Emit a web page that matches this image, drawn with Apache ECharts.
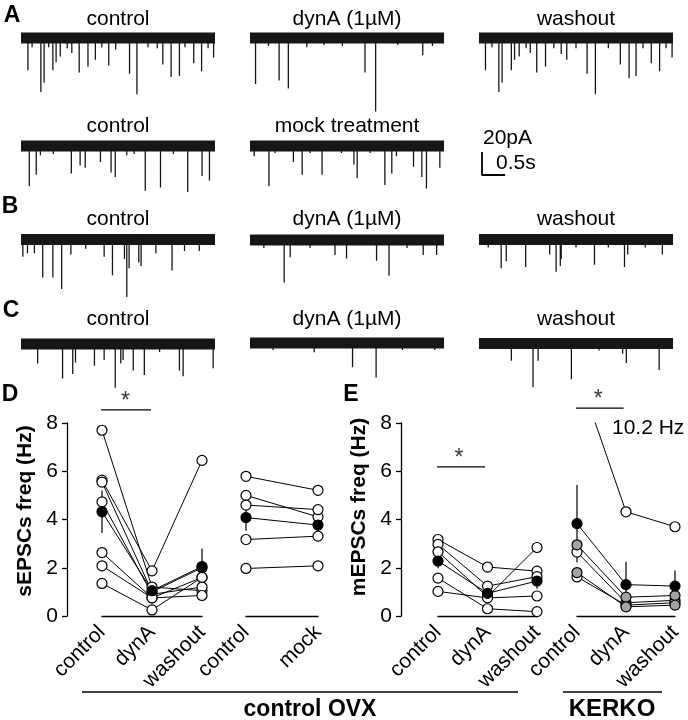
<!DOCTYPE html>
<html><head><meta charset="utf-8">
<script src="https://cdn.jsdelivr.net/npm/echarts/dist/echarts.min.js"></script>
<style>html,body{margin:0;padding:0;background:#fff}#c{width:688px;height:720px}</style>
</head><body><div id="c"></div>
<script>
const FONT = '"Liberation Sans", Arial, Helvetica, sans-serif';

// ---------- Trace data: events [time (s), amplitude (pA, inward)] ----------
const traceDuration = 4.2;
const traceA1Control = [[0.15,28],[0.24,8],[0.43,47],[0.50,39],[0.60,8],[0.69,28],[0.76,21],[0.85,16],[1.00,9],[1.10,13],[1.26,30],[1.45,25],[1.61,19],[1.75,8],[1.90,24],[2.05,10],[2.35,31],[2.51,49],[2.75,8],[2.95,9],[3.07,23],[3.25,34],[3.43,33],[3.55,8],[3.74,22],[3.91,29],[4.05,9],[4.17,17]];
const traceA1DynA = [[0.12,40],[0.40,7],[0.63,37],[0.83,44],[1.23,8],[1.60,6],[2.00,7],[2.49,30],[2.72,64],[3.20,6],[3.74,15],[3.95,7]];
const traceA1Wash = [[0.14,28],[0.28,8],[0.43,47],[0.50,39],[0.70,28],[0.77,19],[0.87,16],[1.02,9],[1.11,13],[1.25,30],[1.44,25],[1.62,9],[1.78,14],[1.90,19],[2.10,9],[2.34,31],[2.52,49],[2.80,9],[3.06,23],[3.25,35],[3.40,33],[3.55,9],[3.73,22],[3.91,29],[4.05,9],[4.18,17]];
const traceA2Control = [[0.18,35],[0.33,25],[0.42,8],[0.70,7],[1.09,24],[1.28,17],[1.39,19],[1.72,14],[1.95,23],[2.04,27],[2.29,8],[2.45,7],[2.69,39],[3.02,36],[3.30,7],[3.61,40],[3.92,26],[4.08,30]];
const traceA2Mock = [[0.09,9],[0.41,35],[0.54,6],[0.94,14],[1.13,25],[1.30,6],[1.56,25],[1.98,6],[2.25,16],[2.32,28],[2.60,6],[2.92,34],[3.07,24],[3.17,9],[3.54,18],[3.72,27],[3.82,37],[4.11,19]];
const traceBControl = [[0.04,15],[0.14,12],[0.29,12],[0.47,33],[0.69,33],[0.88,43],[1.08,13],[1.40,8],[1.80,15],[1.98,31],[2.24,17],[2.29,50],[2.34,25],[2.55,20],[2.60,23],[2.92,12],[3.27,27],[3.54,10],[3.86,10]];
const traceBDynA = [[0.30,7],[0.74,37],[0.87,15],[1.30,7],[1.84,13],[2.09,16],[2.74,18],[3.01,31],[3.40,7],[3.75,13],[4.04,13]];
const traceBWash = [[0.20,7],[0.48,25],[0.59,19],[1.01,24],[1.53,13],[1.67,28],[1.76,23],[1.78,17],[2.10,7],[2.50,22],[2.80,7],[3.15,24],[3.22,13],[3.60,7],[3.97,13]];
const traceCControl = [[0.36,17],[0.90,30],[1.12,26],[1.18,16],[1.59,19],[1.80,14],[2.04,38],[2.16,17],[2.21,14],[2.43,23],[2.67,27],[3.00,7],[3.43,23],[3.51,28],[4.16,21]];
const traceCDynA = [[0.50,6],[1.39,8],[2.22,21],[2.73,30],[3.30,6],[4.00,6]];
const traceCWash = [[0.70,15],[1.17,38],[1.28,15],[2.00,31],[2.60,6],[3.11,9],[3.19,17],[3.90,23]];

// scale bar: 20 pA / 0.5 s
const scaleBar = [[0,20],[0,0],[0.5,0]];

// ---------- Summary data (Hz) ----------
const catsThree = ['control','dynA','washout'];
const catsMock = ['control','mock'];
// D: sEPSC, control OVX, dynA experiment: [control, dynA, washout]
const dCells = [[7.7,1.2,1.05],[5.63,1.87,6.45],[5.55,1.0,2.0],[4.73,0.9,1.2],[2.63,0.75,1.6],[2.08,0.75,0.85],[1.35,0.25,1.6]];
const dMean = [4.32,1.05,2.05];
const dErr = [0.88,0.15,0.75];
// D: mock treatment [control, mock]
const mCells = [[5.79,5.21],[5.0,4.11],[4.6,4.41],[3.17,3.31],[1.97,2.08]];
const mMean = [4.08,3.77];
const mErr = [0.55,0.45];
// E: mEPSC, control OVX
const eCells = [[3.17,2.03,1.86],[2.97,1.24,1.63],[2.66,0.8,2.84],[1.57,0.3,0.18],[1.02,0.75,0.83]];
const eMean = [2.28,0.94,1.45];
const eErr = [0.3,0.15,0.32];
// E: KERKO
const kCells = [[10.2,4.32,3.7],[2.95,0.78,0.85],[2.65,0.55,0.65],[1.8,0.38,0.45],[1.62,0.45,0.55]];
const kFill = ['open','gray','open','gray','open'];
const kMean = [3.83,1.3,1.24];
const kErr = [1.6,0.95,0.65];
// significance bars [x0, x1, y]
const sigD = [-0.04,0.98,8.54];
const sigE1 = [-0.1,0.95,6.18];
const sigE2 = [-0.08,0.95,8.62];

// ---------- Layout ----------
const colLeft = [21,250,479];
const traceW = 194, pxPerPA = 1.15, yMinPA = -75, yMaxPA = 10;
const traces = [
  {d:traceA1Control,col:0,base:38,title:'control',ty:19},
  {d:traceA1DynA,col:1,base:38,title:'dynA (1µM)',ty:19},
  {d:traceA1Wash,col:2,base:38,title:'washout',ty:19},
  {d:traceA2Control,col:0,base:146,title:'control',ty:126},
  {d:traceA2Mock,col:1,base:146,title:'mock treatment',ty:126},
  {d:traceBControl,col:0,base:239.5,title:'control',ty:219},
  {d:traceBDynA,col:1,base:240,title:'dynA (1µM)',ty:219},
  {d:traceBWash,col:2,base:239.5,title:'washout',ty:219},
  {d:traceCControl,col:0,base:344,title:'control',ty:319},
  {d:traceCDynA,col:1,base:343,title:'dynA (1µM)',ty:319},
  {d:traceCWash,col:2,base:343.5,title:'washout',ty:319}
];

const grids=[], xAxes=[], yAxes=[], series=[], graphics=[];
function addGrid(g,x,y){ grids.push(g); const i=grids.length-1; x.gridIndex=i; y.gridIndex=i; xAxes.push(x); yAxes.push(y); return i; }

traces.forEach(t=>{
  const gi = addGrid(
    {left:colLeft[t.col], width:traceW, top:t.base - yMaxPA*pxPerPA, height:(yMaxPA-yMinPA)*pxPerPA},
    {type:'value',min:0,max:traceDuration,show:false},
    {type:'value',min:yMinPA,max:yMaxPA,show:false});
  series.push({type:'line',xAxisIndex:gi,yAxisIndex:gi,data:[[0,0],[traceDuration,0]],symbol:'none',silent:true,
    lineStyle:{color:'#161616',width:11,cap:'butt'},z:2});
  const sd=[];
  t.d.forEach(([tt,a])=>{ sd.push([tt,0],[tt,-a],[tt,'-']); });
  series.push({type:'line',xAxisIndex:gi,yAxisIndex:gi,data:sd,symbol:'none',silent:true,connectNulls:false,
    lineStyle:{color:'#161616',width:1.3},z:3});
  graphics.push({type:'text',x:colLeft[t.col]+traceW/2,y:t.ty,style:{text:t.title,font:'21px '+FONT,fill:'#000',textAlign:'center',textVerticalAlign:'middle'}});
});

// scale bar grid (same px scale as traces: 46.2 px/s, 1.15 px/pA)
{
  const gi = addGrid({left:482,top:152,width:traceW/traceDuration,height:20*pxPerPA},
    {type:'value',min:0,max:1,show:false},{type:'value',min:0,max:20,show:false});
  series.push({type:'line',xAxisIndex:gi,yAxisIndex:gi,data:scaleBar,symbol:'none',silent:true,lineStyle:{color:'#000',width:1.8},clip:false});
}

const pTop=423, pH=193;
function yAxisGrid(left){
  addGrid({left:left,top:pTop,width:10,height:pH},
    {type:'value',min:0,max:1,show:false},
    {type:'value',min:0,max:8,interval:2,position:'left',
      axisLine:{show:true,lineStyle:{color:'#000',width:1.3}},
      axisTick:{show:true,inside:false,length:5,lineStyle:{color:'#000',width:1.3}},
      axisLabel:{fontSize:21,fontFamily:FONT,color:'#000',margin:9},
      splitLine:{show:false}});
}
yAxisGrid(67); yAxisGrid(401);

function dataGrid(left,width,cats){
  return addGrid({left:left,top:pTop,width:width,height:pH},
    {type:'value',min:0,max:cats.length-1,interval:1,
      axisLine:{show:true,onZero:false,lineStyle:{color:'#000',width:1.3}},
      axisTick:{show:false},splitLine:{show:false},
      axisLabel:{rotate:45,fontSize:21,fontFamily:FONT,color:'#000',margin:13,formatter:v=>cats[v]||''}},
    {type:'value',min:0,max:8,show:false});
}
function addGroup(gi,cells,mean,err,fills){
  cells.forEach(c=>series.push({type:'line',xAxisIndex:gi,yAxisIndex:gi,data:c.map((v,j)=>[j,v]),symbol:'none',
    lineStyle:{color:'#000',width:1},clip:true,z:2,silent:true}));
  series.push({type:'line',xAxisIndex:gi,yAxisIndex:gi,data:mean.map((v,j)=>[j,v]),symbol:'none',lineStyle:{color:'#000',width:1},z:2,silent:true});
  const eb=[];
  mean.forEach((m,j)=>{eb.push([j,m-err[j]],[j,m+err[j]],[j,'-']);});
  series.push({type:'line',xAxisIndex:gi,yAxisIndex:gi,data:eb,symbol:'none',connectNulls:false,lineStyle:{color:'#000',width:1.2},z:3,silent:true});
  const open=[], gray=[];
  cells.forEach((c,i)=>c.forEach((v,j)=>{ if(v<=8) ((fills&&fills[i]==='gray')?gray:open).push([j,v]); }));
  const base={type:'scatter',xAxisIndex:gi,yAxisIndex:gi,symbol:'circle',symbolSize:10,silent:true,clip:false};
  series.push(Object.assign({},base,{data:open,itemStyle:{color:'#fff',borderColor:'#000',borderWidth:1.2,opacity:1},z:4}));
  if(gray.length) series.push(Object.assign({},base,{data:gray,itemStyle:{color:'#a3a3a3',borderColor:'#000',borderWidth:1.2,opacity:1},z:4}));
  series.push(Object.assign({},base,{data:mean.map((v,j)=>[j,v]),itemStyle:{color:'#000',borderColor:'#000',borderWidth:1.2,opacity:1},z:5}));
}
function addSig(gi,s){
  series.push({type:'line',xAxisIndex:gi,yAxisIndex:gi,data:[[s[0],s[2]],[s[1],s[2]]],symbol:'none',clip:false,lineStyle:{color:'#000',width:1.3},silent:true});
  series.push({type:'scatter',xAxisIndex:gi,yAxisIndex:gi,data:[[(s[0]+s[1])/2,s[2]+0.36]],symbolSize:0,clip:false,silent:true,
    label:{show:true,position:'inside',formatter:'*',fontSize:23,fontFamily:FONT,color:'#000'}});
}

const gD1 = dataGrid(102,100,catsThree); addGroup(gD1,dCells,dMean,dErr); addSig(gD1,sigD);
const gD2 = dataGrid(246,72,catsMock); addGroup(gD2,mCells,mMean,mErr);
const gE1 = dataGrid(438,99,catsThree); addGroup(gE1,eCells,eMean,eErr); addSig(gE1,sigE1);
const gE2 = dataGrid(577,98,catsThree); addGroup(gE2,kCells,kMean,kErr,kFill); addSig(gE2,sigE2);

// ---------- annotation texts ----------
const letter=(t,x,y)=>({type:'text',x:x,y:y,style:{text:t,font:'bold 23px '+FONT,fill:'#000',textAlign:'center',textVerticalAlign:'middle'}});
graphics.push(letter('A',12,16),letter('B',10,207),letter('C',11,311),letter('D',10,395),letter('E',351,395));
graphics.push({type:'text',x:483,y:138,style:{text:'20pA',font:'21px '+FONT,fill:'#000',textAlign:'left',textVerticalAlign:'middle'}});
graphics.push({type:'text',x:496,y:163,style:{text:'0.5s',font:'21px '+FONT,fill:'#000',textAlign:'left',textVerticalAlign:'middle'}});
graphics.push({type:'text',x:25,y:511,rotation:Math.PI/2,style:{text:'sEPSCs freq (Hz)',font:'bold 21px '+FONT,fill:'#000',textAlign:'center',textVerticalAlign:'middle'}});
graphics.push({type:'text',x:359,y:507,rotation:Math.PI/2,style:{text:'mEPSCs freq (Hz)',font:'bold 21px '+FONT,fill:'#000',textAlign:'center',textVerticalAlign:'middle'}});
graphics.push({type:'text',x:612,y:428,style:{text:'10.2 Hz',font:'21px '+FONT,fill:'#000',textAlign:'left',textVerticalAlign:'middle'}});
graphics.push({type:'line',shape:{x1:82,y1:692,x2:518,y2:692},style:{stroke:'#000',lineWidth:1.3}});
graphics.push({type:'line',shape:{x1:563,y1:692,x2:662,y2:692},style:{stroke:'#000',lineWidth:1.3}});
graphics.push({type:'text',x:310,y:710,style:{text:'control OVX',font:'bold 23px '+FONT,fill:'#000',textAlign:'center',textVerticalAlign:'middle'}});
graphics.push({type:'text',x:612,y:709,style:{text:'KERKO',font:'bold 24px '+FONT,fill:'#000',textAlign:'center',textVerticalAlign:'middle'}});

const chart = echarts.init(document.getElementById('c'),null,{renderer:'canvas'});
chart.setOption({animation:false,backgroundColor:'#fff',textStyle:{fontFamily:FONT},
  grid:grids,xAxis:xAxes,yAxis:yAxes,series:series,graphic:graphics});
</script></body></html>
